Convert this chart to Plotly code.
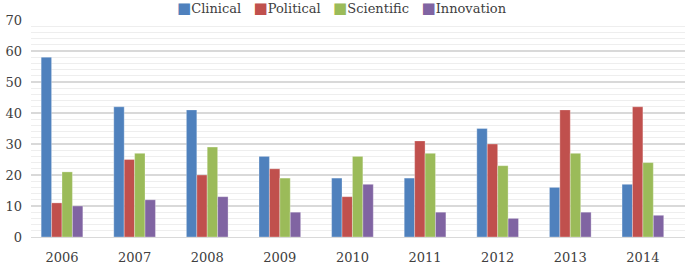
import plotly.graph_objects as go

years = ["2006", "2007", "2008", "2009", "2010", "2011", "2012", "2013", "2014"]
clinical = [58, 42, 41, 26, 19, 19, 35, 16, 17]
political = [11, 25, 20, 22, 13, 31, 30, 41, 42]
scientific = [21, 27, 29, 19, 26, 27, 23, 27, 24]
innovation = [10, 12, 13, 8, 17, 8, 6, 8, 7]

series_names = ["Clinical", "Political", "Scientific", "Innovation"]
series_values = [clinical, political, scientific, innovation]
colors = ["#4F81BD", "#C0504D", "#9BBB59", "#8064A2"]

FONT = "DejaVu Serif"

fig = go.Figure()
for name, vals, col in zip(series_names, series_values, colors):
    fig.add_trace(go.Bar(
        x=years, y=vals, name=name,
        marker=dict(color=col, line=dict(color="rgba(255,255,255,0.5)", width=0.6)),
    ))

legend_text = "&nbsp;&nbsp;&nbsp;".join(
    f'<span style="color:{c};font-size:15px">■</span>{n}' for n, c in zip(series_names, colors)
)
fig.add_annotation(
    text=legend_text, xref="paper", yref="paper", x=0.475, y=1,
    xanchor="center", yanchor="middle", yshift=12.5, showarrow=False,
    font=dict(family=FONT, size=13, color="#404040"),
)

fig.update_layout(
    width=685, height=265,
    margin=dict(l=31, r=0, t=19.5, b=26),
    paper_bgcolor="white", plot_bgcolor="white",
    showlegend=False,
    barmode="group", bargap=0.426, bargroupgap=0,
    font=dict(family=FONT, size=13, color="#404040"),
    xaxis=dict(
        type="category", range=[-0.427, 8.58],
        showgrid=False, showline=True, linecolor="#D9D9D9", linewidth=1,
        ticks="", ticklabelstandoff=8, tickfont=dict(size=13),
    ),
    yaxis=dict(
        range=[0, 70], dtick=10, showgrid=True, gridcolor="#D9D9D9", gridwidth=1.5,
        zeroline=False, ticks="", ticklabelstandoff=8, tickfont=dict(size=13),
        minor=dict(dtick=2, showgrid=True, gridcolor="#EEEEEE", gridwidth=1),
    ),
)

fig.write_html("out.html", post_script="document.body.style.margin='0';",
               config={"displayModeBar": False})
